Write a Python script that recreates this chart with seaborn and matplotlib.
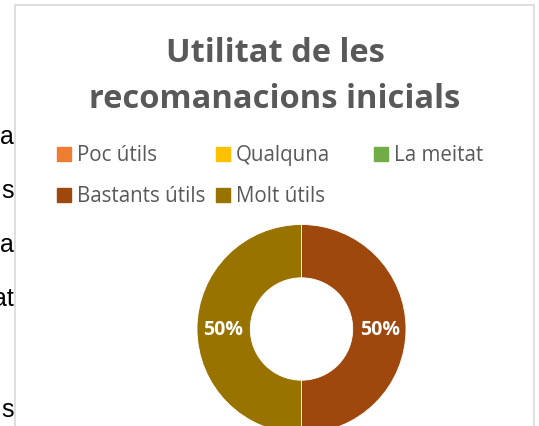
import matplotlib
matplotlib.use('Agg')

import matplotlib.pyplot as plt
import seaborn as sns
from matplotlib.patches import Rectangle

sns.set_theme(style="white")
plt.rcParams['font.family'] = ['Open Sans', 'DejaVu Sans']

W, H = 539, 427

categories = ["Poc útils", "Qualquna", "La meitat", "Bastants útils", "Molt útils"]
values = [0, 0, 0, 1, 1]
colors = sns.color_palette(["#ED7D31", "#FFC000", "#70AD47", "#9E480E", "#997300"])
title_lines = ["Utilitat de les", "recomanacions inicials"]
side_text = ["a", "s", "a", "at", "s"]
side_baselines = [144, 198, 252, 306, 417]

fig = plt.figure(figsize=(W / 100, H / 100), dpi=100)
fig.patch.set_facecolor('white')

# chart frame (cut at the bottom like the screenshot)
fig.patches.append(Rectangle((15 / W, -0.05), 519 / W, 1.05 - 6 / H,
                             transform=fig.transFigure, fill=False,
                             edgecolor='#D9D9D9', linewidth=1.2))

# bits of the document text behind the chart
for t, yb in zip(side_text, side_baselines):
    fig.text(14 / W, 1 - yb / H, t, ha='right', va='baseline',
             family='Liberation Sans', fontsize=18, color='black')

# title
fig.text(275 / W, 1 - 62 / H, title_lines[0], ha='center', va='baseline',
         fontsize=23.5, fontweight='bold', color='#595959')
fig.text(275 / W, 1 - 108 / H, title_lines[1], ha='center', va='baseline',
         fontsize=23.5, fontweight='bold', color='#595959')

# legend, row-major like Excel
for i, (lab, col) in enumerate(zip(categories, colors)):
    r, c = divmod(i, 3)
    x0 = 57 + 158.5 * c
    yb = 162 + 41 * r
    fig.patches.append(Rectangle((x0 / W, 1 - yb / H), 14 / W, 14 / H,
                                 transform=fig.transFigure, color=col))
    fig.text((x0 + 20) / W, 1 - (yb - 0.5) / H, lab, ha='left', va='baseline',
             fontsize=14.8, color='#595959')

# donut
cx, cy, rad = 301.5, 330, 104.5
ax = fig.add_axes([(cx - rad) / W, (H - cy - rad) / H, 2 * rad / W, 2 * rad / H])


def pct(p):
    return '{:.0f}%'.format(p) if p > 0 else ''


wedges, texts, autotexts = ax.pie(
    values, colors=colors, startangle=90, counterclock=False,
    autopct=pct, pctdistance=0.755,
    wedgeprops=dict(width=0.51, edgecolor='white', linewidth=0.6),
    textprops=dict(color='white', fontsize=14, fontweight='bold'))
ax.set_xlim(-1, 1)
ax.set_ylim(-1, 1)
ax.set_aspect('equal')
ax.axis('off')

fig.savefig('out.png', dpi=100)
